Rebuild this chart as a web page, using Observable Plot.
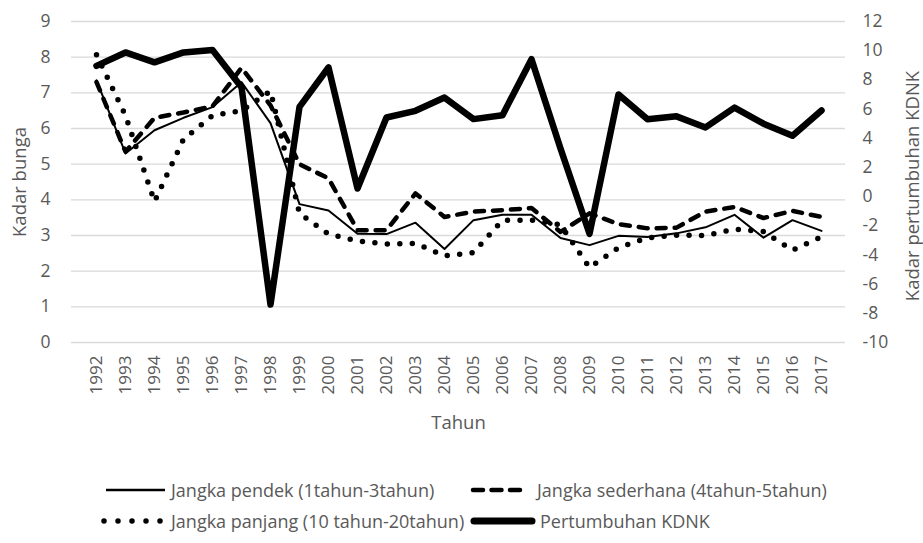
<!DOCTYPE html>
<html><head><meta charset="utf-8">
<script src="https://cdn.jsdelivr.net/npm/d3@7"></script>
<script src="https://cdn.jsdelivr.net/npm/@observablehq/plot@0.6"></script>
<style>
body{margin:0;background:#fff;font-family:"Open Sans",sans-serif;}
#wrap{position:relative;width:923px;height:543px;overflow:hidden;}
.leg{position:absolute;display:flex;align-items:center;font-size:18px;color:#595959;white-space:nowrap;height:22px;}
.leg svg{display:block;margin-right:4px;}
</style></head><body><div id="wrap"><div id="chart"></div></div>
<script>
const years = [1992,1993,1994,1995,1996,1997,1998,1999,2000,2001,2002,2003,2004,2005,2006,2007,2008,2009,2010,2011,2012,2013,2014,2015,2016,2017];
const pendek = [7.35,5.3,5.95,6.3,6.6,7.3,6.15,3.88,3.7,3.05,3.04,3.36,2.62,3.43,3.58,3.58,2.93,2.73,2.99,2.96,3.06,3.23,3.58,2.94,3.43,3.13];
const sederhana = [7.3,5.35,6.3,6.45,6.62,7.7,6.65,5.0,4.6,3.15,3.15,4.18,3.52,3.67,3.71,3.77,3.1,3.62,3.32,3.2,3.22,3.67,3.8,3.49,3.69,3.52];
const panjang = [8.07,6.36,3.95,5.7,6.36,6.5,7.05,3.62,3.04,2.85,2.76,2.78,2.43,2.52,3.43,3.43,3.3,2.1,2.66,2.93,3.01,3.0,3.18,3.11,2.59,2.96];
const kdnk = [8.96,9.88,9.2,9.88,10.04,7.5,-7.4,6.15,8.85,0.55,5.42,5.88,6.79,5.31,5.58,9.42,3.3,-2.55,7.0,5.3,5.5,4.74,6.1,5.0,4.17,5.9];
const leftTicks = [0,1,2,3,4,5,6,7,8,9];
const rightTicks = [-10,-8,-6,-4,-2,0,2,4,6,8,10,12];
const seriesNames = ["Jangka pendek (1tahun-3tahun)","Jangka sederhana (4tahun-5tahun)","Jangka panjang (10 tahun-20tahun)","Pertumbuhan KDNK"];

const toLeft = g => (g + 10) * 9 / 22;
const fromLeft = v => Math.round(v * 22 / 9 - 10);
const tbl = arr => years.map((yr, i) => ({year: yr, v: arr[i]}));

const chart = Plot.plot({
  width: 923, height: 440,
  marginLeft: 71, marginRight: 78, marginTop: 21, marginBottom: 98,
  x: {type: "point", domain: years, padding: 0.5},
  y: {domain: [0, 9]},
  style: {fontFamily: "Open Sans", fontSize: "17px", color: "#595959", background: "#fff"},
  marks: [
    Plot.gridY(leftTicks, {stroke: "#d9d9d9", strokeOpacity: 1, strokeWidth: 1.3}),
    Plot.axisY({ticks: leftTicks, tickSize: 0, tickPadding: 21, label: null, fontSize: 17.5}),
    Plot.axisY({anchor: "right", ticks: rightTicks.map(toLeft), tickFormat: v => String(fromLeft(v)), tickSize: 0, tickPadding: 17, label: null, fontSize: 17.5}),
    Plot.axisX({tickRotate: -90, tickFormat: d => String(d), tickSize: 0, tickPadding: 13, label: null, fontSize: 17}),
    Plot.text(["Kadar bunga"], {text: d => d, frameAnchor: "left", textAnchor: "middle", dx: -51, rotate: -90, fontSize: 18.5, fill: "#595959"}),
    Plot.text(["Kadar pertumbuhan KDNK"], {text: d => d, frameAnchor: "right", textAnchor: "middle", dx: 68, dy: 4, rotate: -90, fontSize: 18.5, fill: "#595959"}),
    Plot.text(["Tahun"], {text: d => d, frameAnchor: "bottom", dy: 86, fontSize: 18.5, fill: "#595959"}),
    Plot.line(tbl(pendek), {x: "year", y: "v", stroke: "#000", strokeWidth: 2, strokeLinejoin: "round"}),
    Plot.line(tbl(sederhana), {x: "year", y: "v", stroke: "#000", strokeWidth: 4.5, strokeDasharray: "9 9", strokeLinecap: "round", strokeLinejoin: "round"}),
    Plot.line(tbl(panjang), {x: "year", y: "v", stroke: "#000", strokeWidth: 5.5, strokeDasharray: "0 12.5", strokeLinecap: "round", strokeLinejoin: "round"}),
    Plot.line(tbl(kdnk.map(toLeft)), {x: "year", y: "v", stroke: "#000", strokeWidth: 6.5, strokeLinejoin: "round", strokeLinecap: "round"})
  ]
});
document.getElementById("chart").appendChild(chart);

const swatches = [
  '<svg width="64" height="10"><line x1="3" y1="5" x2="62" y2="5" stroke="#000" stroke-width="2.5"/></svg>',
  '<svg width="64" height="10"><line x1="4" y1="5" x2="58" y2="5" stroke="#000" stroke-width="4.5" stroke-dasharray="10 8.5" stroke-linecap="round"/></svg>',
  '<svg width="66" height="10"><line x1="3" y1="5" x2="62" y2="5" stroke="#000" stroke-width="5.5" stroke-dasharray="0 14" stroke-linecap="round"/></svg>',
  '<svg width="66" height="10"><line x1="4" y1="5" x2="62" y2="5" stroke="#000" stroke-width="7" stroke-linecap="round"/></svg>'
];
const pos = [[103, 479], [469, 479], [101, 510], [470, 510]];
const wrap = document.getElementById("wrap");
seriesNames.forEach((name, i) => {
  const d = document.createElement("div");
  d.className = "leg";
  d.style.left = pos[i][0] + "px";
  d.style.top = pos[i][1] + "px";
  d.innerHTML = swatches[i] + "<span>" + name + "</span>";
  wrap.appendChild(d);
});
</script></body></html>
